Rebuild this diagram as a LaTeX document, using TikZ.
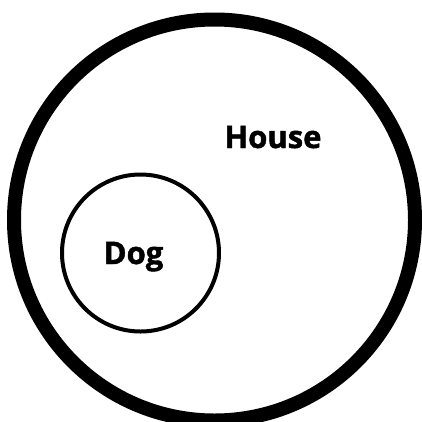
\documentclass[tikz,border=0pt]{standalone}
\usepackage{fontspec}
\setmainfont{Open Sans}[BoldFeatures={FakeBold=1.5}]
\usetikzlibrary{positioning}

\begin{document}
\begin{tikzpicture}[x=1pt, y=-1pt,
    set/.style={circle, draw, inner sep=0pt},
    label text/.style={font=\fontsize{31}{31}\selectfont\bfseries, inner sep=0pt, anchor=base}]
    \useasboundingbox (0,0) rectangle (422,421);
    \node[set, line width=14pt, minimum size=401pt] (house) at (214.5,220) {};
    \node[set, line width=4pt, minimum size=157pt] (dog) at (140.5,253) {};
    \node[label text] (houselabel) at (273,148) {House};
    \node[label text] (doglabel) at (133.5,264) {Dog};
\end{tikzpicture}
\end{document}
